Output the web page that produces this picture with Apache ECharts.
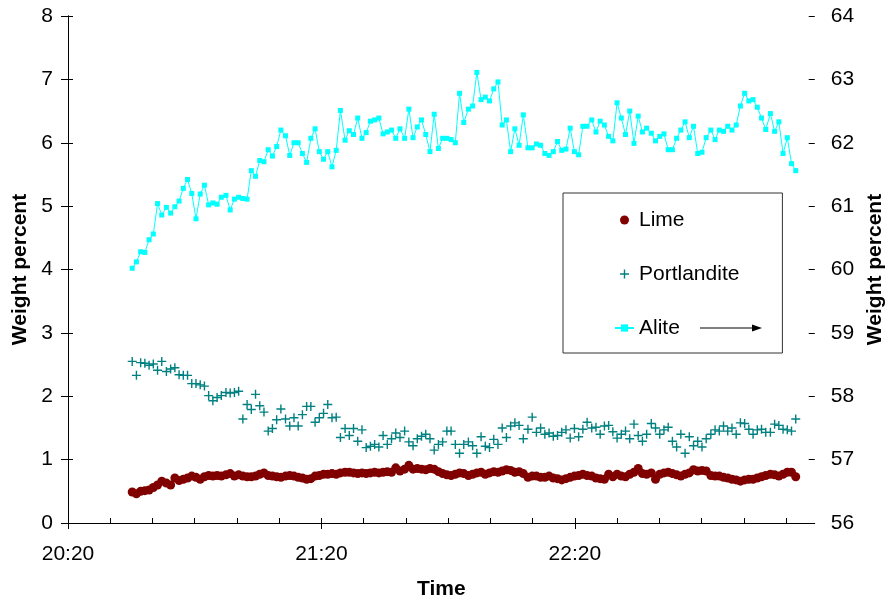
<!DOCTYPE html>
<html><head><meta charset="utf-8">
<script src="https://cdn.jsdelivr.net/npm/echarts@6/dist/echarts.min.js"></script>
<style>html,body{margin:0;padding:0;background:#fff}#c{width:894px;height:605px}</style>
</head><body><div id="c"></div><script>
// sample times, minutes after 20:20
const times = [
15.2,16.2,17.2,18.2,19.2,20.2,21.2,22.2,23.3,24.3,
25.3,26.3,27.3,28.3,29.3,30.3,31.3,32.3,33.3,34.3,
35.3,36.3,37.4,38.4,39.4,40.4,41.4,42.4,43.4,44.4,
45.4,46.4,47.4,48.4,49.4,50.4,51.5,52.5,53.5,54.5,
55.5,56.5,57.5,58.5,59.5,60.5,61.5,62.5,63.5,64.5,
65.6,66.6,67.6,68.6,69.6,70.6,71.6,72.6,73.6,74.6,
75.6,76.6,77.6,78.6,79.7,80.7,81.7,82.7,83.7,84.7,
85.7,86.7,87.7,88.7,89.7,90.7,91.7,92.7,93.7,94.8,
95.8,96.8,97.8,98.8,99.8,100.8,101.8,102.8,103.8,104.8,
105.8,106.8,107.8,108.9,109.9,110.9,111.9,112.9,113.9,114.9,
115.9,116.9,117.9,118.9,119.9,120.9,121.9,122.9,124.0,125.0,
126.0,127.0,128.0,129.0,130.0,131.0,132.0,133.0,134.0,135.0,
136.0,137.0,138.1,139.1,140.1,141.1,142.1,143.1,144.1,145.1,
146.1,147.1,148.1,149.1,150.1,151.1,152.2,153.2,154.2,155.2,
156.2,157.2,158.2,159.2,160.2,161.2,162.2,163.2,164.2,165.2,
166.3,167.3,168.3,169.3,170.3,171.3,172.3];

const lime = [
0.49,0.46,0.50,0.51,0.52,0.56,0.60,0.66,0.63,0.60,
0.71,0.67,0.69,0.71,0.74,0.72,0.69,0.73,0.75,0.74,
0.75,0.74,0.76,0.78,0.74,0.76,0.74,0.73,0.73,0.74,
0.77,0.79,0.75,0.74,0.73,0.72,0.74,0.75,0.74,0.72,
0.71,0.69,0.70,0.74,0.75,0.77,0.77,0.78,0.77,0.79,
0.80,0.80,0.79,0.78,0.79,0.78,0.79,0.80,0.79,0.80,
0.81,0.80,0.87,0.82,0.85,0.91,0.85,0.86,0.85,0.84,
0.86,0.85,0.81,0.78,0.76,0.75,0.77,0.79,0.78,0.75,
0.77,0.79,0.80,0.77,0.79,0.81,0.80,0.82,0.84,0.83,
0.80,0.81,0.78,0.72,0.74,0.74,0.72,0.72,0.74,0.71,
0.70,0.68,0.70,0.72,0.74,0.75,0.77,0.75,0.74,0.71,
0.70,0.69,0.77,0.73,0.77,0.74,0.73,0.77,0.80,0.86,
0.78,0.77,0.79,0.69,0.77,0.79,0.80,0.78,0.76,0.74,
0.77,0.79,0.84,0.82,0.83,0.82,0.75,0.74,0.74,0.72,
0.71,0.69,0.68,0.66,0.68,0.69,0.69,0.71,0.73,0.75,
0.77,0.76,0.74,0.77,0.80,0.80,0.73];

const portlandite = [
2.55,2.33,2.53,2.52,2.49,2.51,2.41,2.55,2.39,2.43,
2.45,2.34,2.33,2.33,2.20,2.20,2.18,2.16,2.01,1.93,
1.98,2.01,2.06,2.05,2.06,2.08,1.64,1.87,1.79,2.03,
1.85,1.75,1.45,1.49,1.63,1.80,1.64,1.53,1.66,1.53,
1.71,1.84,1.84,1.59,1.66,1.73,1.87,1.66,1.67,1.35,
1.49,1.38,1.49,1.29,1.47,1.19,1.21,1.24,1.20,1.38,
1.24,1.33,1.42,1.35,1.45,1.28,1.22,1.33,1.37,1.40,
1.33,1.15,1.24,1.28,1.45,1.45,1.24,1.10,1.24,1.28,
1.22,1.10,1.36,1.21,1.19,1.32,1.24,1.50,1.35,1.53,
1.58,1.54,1.33,1.48,1.67,1.43,1.50,1.40,1.42,1.37,
1.38,1.43,1.47,1.34,1.49,1.36,1.48,1.59,1.50,1.51,
1.40,1.53,1.54,1.44,1.34,1.40,1.45,1.33,1.56,1.38,
1.29,1.40,1.57,1.50,1.40,1.47,1.51,1.29,1.20,1.40,
1.10,1.36,1.22,1.29,1.20,1.33,1.40,1.47,1.45,1.53,
1.45,1.50,1.40,1.58,1.57,1.48,1.40,1.47,1.48,1.43,
1.43,1.56,1.54,1.48,1.47,1.45,1.64];

const alite = [
60.02,60.12,60.28,60.27,60.47,60.56,61.04,60.86,60.98,60.89,
60.99,61.08,61.28,61.42,61.20,60.80,61.19,61.33,61.02,61.05,
61.03,61.14,61.17,60.94,61.11,61.14,61.12,61.11,61.56,61.47,
61.72,61.70,61.89,61.79,61.94,62.20,62.11,61.80,62.00,62.00,
61.83,61.69,62.07,62.22,61.86,61.74,61.86,61.62,61.88,62.51,
62.04,62.19,62.13,62.39,62.07,62.16,62.34,62.36,62.39,62.14,
62.17,62.20,62.07,62.22,62.07,62.53,62.08,62.25,62.36,62.13,
61.86,62.45,61.91,62.07,62.07,62.05,62.00,62.78,62.32,62.53,
62.58,63.11,62.68,62.72,62.66,62.85,62.96,62.28,62.36,61.86,
62.22,61.96,62.44,61.92,61.92,61.98,61.96,61.83,61.80,61.86,
62.02,61.88,61.90,62.23,61.86,61.81,62.26,62.26,62.36,62.17,
62.34,62.28,62.10,62.03,62.63,62.39,62.13,62.50,61.99,62.42,
62.17,62.23,62.15,62.03,62.10,62.14,61.89,61.89,62.07,62.20,
62.33,62.08,62.26,61.83,61.85,62.08,62.20,62.05,62.20,62.18,
62.26,62.20,62.28,62.58,62.78,62.66,62.68,62.56,62.39,62.21,
62.46,62.18,62.33,61.83,62.08,61.67,61.56];

const xTickValues = [0, 60, 120];
const xTickLabels = ['20:20', '21:20', '22:20'];
const xMinorTickValues = [0,10,20,30,40,50,60,70,80,90,100,110,120,130,140,150,160,170];
const xMax = 176.8;

const FONT = '"Liberation Sans", Arial, sans-serif';
const PLUS = 'path://M3.8,0H5.2V3.8H9V5.2H5.2V9H3.8V5.2H0V3.8H3.8Z';
const axisLineStyle = {color: '#000', width: 1};
const labelStyle = {color: '#000', fontFamily: FONT, fontSize: 21};
const nameStyle = {color: '#000', fontFamily: FONT, fontSize: 21, fontWeight: 'bold'};

const pairs = vals => times.map((t, i) => [t, vals[i]]);

const chart = echarts.init(document.getElementById('c'), null, {renderer: 'canvas'});
chart.setOption({
  animation: false,
  backgroundColor: '#fff',
  grid: {left: 68, right: 72, top: 16, bottom: 77.5, containLabel: false},
  xAxis: [
    {
      type: 'value', position: 'bottom', min: 0, max: xMax,
      axisLine: {show: true, lineStyle: axisLineStyle},
      axisTick: {show: true, inside: false, length: 6, lineStyle: axisLineStyle, customValues: xTickValues},
      axisLabel: {show: true, margin: 21, customValues: xTickValues, ...labelStyle,
        formatter: v => { const k = xTickValues.indexOf(Math.round(v)); return k >= 0 ? xTickLabels[k] : ''; }},
      splitLine: {show: false},
      name: 'Time', nameLocation: 'middle', nameGap: 56, nameTextStyle: nameStyle
    },
    {
      type: 'value', position: 'bottom', min: 0, max: xMax,
      axisLine: {show: false},
      axisTick: {show: true, inside: true, length: 5, lineStyle: axisLineStyle, customValues: xMinorTickValues},
      axisLabel: {show: false},
      splitLine: {show: false}
    }
  ],
  yAxis: [
    {
      type: 'value', position: 'left', min: 0, max: 8, interval: 1,
      axisLine: {show: true, lineStyle: axisLineStyle},
      axisTick: {show: true, inside: false, length: 7, lineStyle: axisLineStyle},
      axisLabel: {margin: 15, ...labelStyle},
      splitLine: {show: false},
      name: 'Weight percent', nameLocation: 'middle', nameRotate: 90, nameGap: 32, nameTextStyle: nameStyle
    },
    {
      type: 'value', position: 'right', min: 56, max: 64, interval: 1,
      axisLine: {show: true, lineStyle: axisLineStyle},
      axisTick: {show: true, inside: false, length: 5, lineStyle: axisLineStyle},
      axisLabel: {margin: 16, ...labelStyle},
      splitLine: {show: false},
      name: 'Weight percent', nameLocation: 'middle', nameRotate: 90, nameGap: 47, nameTextStyle: nameStyle
    },
    {
      type: 'value', position: 'right', min: 56, max: 64, interval: 1,
      axisLine: {show: false},
      axisTick: {show: true, inside: true, length: 6, lineStyle: axisLineStyle},
      axisLabel: {show: false},
      splitLine: {show: false}
    }
  ],
  legend: {
    orient: 'vertical', left: 563, top: 193,
    itemWidth: 19, itemHeight: 9, itemGap: 32,
    padding: [16, 43, 14, 51],
    borderColor: '#333', borderWidth: 1, backgroundColor: '#fff',
    textStyle: {color: '#000', fontFamily: FONT, fontSize: 21, lineHeight: 22},
    data: [{name: 'Lime', icon: 'circle'}, {name: 'Portlandite', icon: PLUS}, {name: 'Alite'}]
  },
  graphic: [
    {type: 'line', z: 100, shape: {x1: 700, y1: 328, x2: 755, y2: 328}, style: {stroke: '#000', lineWidth: 1}},
    {type: 'polygon', z: 100, shape: {points: [[762, 328], [752, 324.5], [752, 331.5]]}, style: {fill: '#000'}}
  ],
  series: [
    {
      name: 'Lime', type: 'scatter', xAxisIndex: 0, yAxisIndex: 0,
      symbol: 'circle', symbolSize: 9,
      itemStyle: {color: '#800000', opacity: 1},
      data: pairs(lime)
    },
    {
      name: 'Portlandite', type: 'scatter', xAxisIndex: 0, yAxisIndex: 0,
      symbol: PLUS, symbolSize: 9,
      itemStyle: {color: '#008080', opacity: 1},
      data: pairs(portlandite)
    },
    {
      name: 'Alite', type: 'line', xAxisIndex: 0, yAxisIndex: 1,
      symbol: 'rect', symbolSize: 5, showSymbol: true, showAllSymbol: true,
      lineStyle: {color: '#00FFFF', width: 1},
      itemStyle: {color: '#00FFFF'},
      data: pairs(alite)
    }
  ]
});
</script></body></html>
